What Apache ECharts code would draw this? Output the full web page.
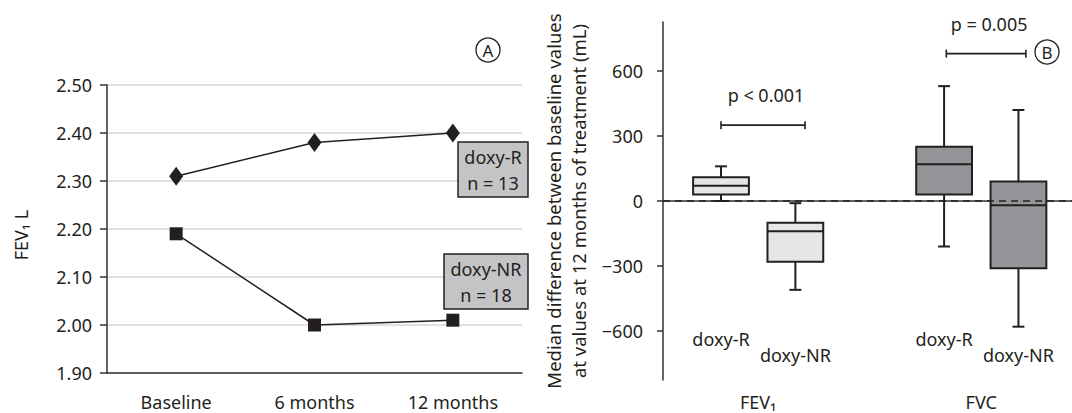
<!DOCTYPE html>
<html><head><meta charset="utf-8">
<script src="https://cdn.jsdelivr.net/npm/echarts@6/dist/echarts.min.js"></script>
<style>html,body{margin:0;padding:0;background:#fff}#c{width:1072px;height:413px}</style>
</head><body><div id="c"></div>
<script>
// ---- Panel A data ----
const timepoints = ['Baseline', '6 months', '12 months'];
const doxyR_FEV1 = [2.31, 2.38, 2.40];
const doxyNR_FEV1 = [2.19, 2.00, 2.01];
const annotA = [['doxy-R', 'n = 13'], ['doxy-NR', 'n = 18']];
const yNameA = 'FEV\u2081 L';

// ---- Panel B data ----
const outcomeGroups = ['FEV\u2081', 'FVC'];
const boxNames = ['doxy-R', 'doxy-NR', 'doxy-R', 'doxy-NR'];
const boxSlots = [1, 2, 4, 5];
// [min, Q1, median, Q3, max]
const boxStats = [
  [0, 30, 70, 110, 160],
  [-410, -280, -140, -100, -10],
  [-210, 30, 170, 250, 530],
  [-580, -310, -20, 90, 420]
];
const pBrackets = [[1, 2.13, 350], [4.03, 5.1, 680]];
const pLabels = ['p < 0.001', 'p = 0.005'];
const yTicksB = [-600, -300, 0, 300, 600];

const INK = '#231f20';
const FONT = 'Noto Sans';
const FILLS = ['#e5e6e7', '#949598'];

const chart = echarts.init(document.getElementById('c'), null, {renderer: 'svg'});

const option = {
  animation: false,
  backgroundColor: '#fff',
  textStyle: {fontFamily: FONT, color: INK},
  grid: [
    {left: 107, top: 85, width: 415, height: 288, outerBoundsMode: 'none', containLabel: false},
    {left: 663, top: 22, right: 0, height: 358, outerBoundsMode: 'none', containLabel: false}
  ],
  xAxis: [
    {
      gridIndex: 0, type: 'category', data: timepoints, boundaryGap: true, position: 'bottom',
      axisLine: {lineStyle: {color: '#333', width: 1.5}},
      axisTick: {alignWithLabel: true, length: 7, lineStyle: {color: '#333', width: 1.5}},
      axisLabel: {fontSize: 18, color: INK, margin: 20, fontFamily: FONT}
    },
    {
      gridIndex: 0, type: 'category', data: timepoints, boundaryGap: true, position: 'bottom',
      axisLine: {show: false},
      axisTick: {inside: true, length: 7, lineStyle: {color: '#333', width: 1.5}},
      axisLabel: {show: false}
    },
    {
      gridIndex: 1, type: 'value', min: 0.22, max: 5.72, position: 'bottom',
      axisLine: {lineStyle: {color: '#333', width: 1.5}},
      axisTick: {show: false},
      splitLine: {show: false},
      axisLabel: {
        customValues: [1.5, 4.5], margin: 14, fontSize: 18, lineHeight: 16, color: INK, fontFamily: FONT,
        formatter: v => (v < 3 ? outcomeGroups[0] : outcomeGroups[1])
      }
    }
  ],
  yAxis: [
    {
      gridIndex: 0, type: 'value', min: 1.9, max: 2.5, interval: 0.1,
      axisLine: {show: true, lineStyle: {color: '#333', width: 1.5}},
      axisTick: {show: true, length: 7, lineStyle: {color: '#333', width: 1.5}},
      axisLabel: {fontSize: 18, color: INK, margin: 15, fontFamily: FONT, formatter: v => v.toFixed(2)},
      splitLine: {lineStyle: {color: '#d6d6d6', width: 1.5}}
    },
    {
      gridIndex: 1, type: 'value', min: -826, max: 826,
      axisLine: {show: true, lineStyle: {color: '#333', width: 1.5}},
      axisTick: {show: true, length: 6, customValues: yTicksB, lineStyle: {color: '#333', width: 1.5}},
      axisLabel: {fontSize: 18, color: INK, margin: 20, fontFamily: FONT, customValues: yTicksB,
        formatter: v => (v < 0 ? '\u2212' + Math.abs(v) : String(v))},
      splitLine: {show: false},
      name: 'Median difference between baseline values\nat values at 12 months of treatment (mL)',
      nameLocation: 'middle', nameGap: 72, nameRotate: 90,
      nameTextStyle: {fontSize: 18.5, color: INK, fontFamily: FONT, lineHeight: 25}
    }
  ],
  series: [
    {
      type: 'line', xAxisIndex: 0, yAxisIndex: 0, data: doxyR_FEV1,
      symbol: 'diamond', symbolSize: [14, 19], color: INK,
      lineStyle: {color: INK, width: 1.5}, itemStyle: {color: INK}
    },
    {
      type: 'line', xAxisIndex: 0, yAxisIndex: 0, data: doxyNR_FEV1,
      symbol: 'rect', symbolSize: 13, color: INK,
      lineStyle: {color: INK, width: 1.5}, itemStyle: {color: INK}
    },
    {
      type: 'custom', xAxisIndex: 2, yAxisIndex: 1, z: 3,
      data: boxSlots.map((s, i) => [s].concat(boxStats[i])),
      encode: {x: 0, y: [1, 2, 3, 4, 5]},
      renderItem: function (params, api) {
        const x = api.value(0);
        const lo = api.coord([x, api.value(1)]);
        const q1 = api.coord([x, api.value(2)]);
        const md = api.coord([x, api.value(3)]);
        const q3 = api.coord([x, api.value(4)]);
        const hi = api.coord([x, api.value(5)]);
        const bottom = api.coord([x, -826])[1];
        const w = api.size([0.75, 0])[0];
        const cap = api.size([0.16, 0])[0];
        const cx = lo[0];
        const fill = FILLS[Math.floor(params.dataIndex / 2)];
        const ls = {stroke: INK, lineWidth: 2};
        const isNR = params.dataIndex % 2 === 1;
        return {type: 'group', children: [
          {type: 'line', shape: {x1: cx, y1: hi[1], x2: cx, y2: q3[1]}, style: ls},
          {type: 'line', shape: {x1: cx, y1: q1[1], x2: cx, y2: lo[1]}, style: ls},
          {type: 'line', shape: {x1: cx - cap / 2, y1: hi[1], x2: cx + cap / 2, y2: hi[1]}, style: ls},
          {type: 'line', shape: {x1: cx - cap / 2, y1: lo[1], x2: cx + cap / 2, y2: lo[1]}, style: ls},
          {type: 'rect', shape: {x: cx - w / 2, y: q3[1], width: w, height: q1[1] - q3[1]},
            style: {fill: fill, stroke: INK, lineWidth: 2}},
          {type: 'line', shape: {x1: cx - w / 2, y1: md[1], x2: cx + w / 2, y2: md[1]}, style: ls},
          {type: 'text', style: {text: boxNames[params.dataIndex], x: cx, y: bottom - (isNR ? 25 : 41),
            align: 'center', verticalAlign: 'middle', fontSize: 18, fontFamily: FONT, fill: INK}}
        ]};
      }
    },
    {
      type: 'custom', xAxisIndex: 2, yAxisIndex: 1, z: 3,
      data: pBrackets.map((b, i) => [b[0], b[1], b[2], i]),
      encode: {x: [0, 1], y: 2},
      renderItem: function (params, api) {
        const a = api.coord([api.value(0), api.value(2)]);
        const b = api.coord([api.value(1), api.value(2)]);
        const ls = {stroke: INK, lineWidth: 1.6};
        return {type: 'group', children: [
          {type: 'line', shape: {x1: a[0], y1: a[1], x2: b[0], y2: b[1]}, style: ls},
          {type: 'line', shape: {x1: a[0], y1: a[1] - 4, x2: a[0], y2: a[1] + 4}, style: ls},
          {type: 'line', shape: {x1: b[0], y1: b[1] - 4, x2: b[0], y2: b[1] + 4}, style: ls},
          {type: 'text', style: {text: pLabels[params.dataIndex], x: (a[0] + b[0]) / 2 + 3, y: a[1] - 30,
            align: 'center', verticalAlign: 'middle', fontSize: 18, fontFamily: FONT, fill: INK}}
        ]};
      }
    },
    {
      type: 'line', xAxisIndex: 2, yAxisIndex: 1, data: [], z: 10,
      markLine: {
        silent: true, symbol: ['none', 'none'], label: {show: false},
        lineStyle: {color: INK, type: [7, 5], width: 1.5},
        data: [{yAxis: 0}]
      }
    }
  ],
  graphic: [
    {type: 'text', z: 101, x: 21, y: 235, rotation: Math.PI / 2,
      style: {text: yNameA, align: 'center', verticalAlign: 'middle', fontSize: 18, fontFamily: FONT, fill: INK}},
    {type: 'group', z: 100, children: [
      {type: 'rect', z: 100, shape: {x: 458, y: 142, width: 70, height: 55},
        style: {fill: '#c4c4c6', stroke: INK, lineWidth: 1.5}},
      {type: 'text', z: 101, x: 493, y: 157, style: {text: annotA[0][0], align: 'center', verticalAlign: 'middle', fontSize: 18, fontFamily: FONT, fill: INK}},
      {type: 'text', z: 101, x: 493, y: 183, style: {text: annotA[0][1], align: 'center', verticalAlign: 'middle', fontSize: 18, fontFamily: FONT, fill: INK}},
      {type: 'rect', z: 100, shape: {x: 444, y: 254, width: 84, height: 55},
        style: {fill: '#c4c4c6', stroke: INK, lineWidth: 1.5}},
      {type: 'text', z: 101, x: 486, y: 269, style: {text: annotA[1][0], align: 'center', verticalAlign: 'middle', fontSize: 18, fontFamily: FONT, fill: INK}},
      {type: 'text', z: 101, x: 486, y: 295, style: {text: annotA[1][1], align: 'center', verticalAlign: 'middle', fontSize: 18, fontFamily: FONT, fill: INK}},
      {type: 'circle', z: 100, shape: {cx: 488, cy: 50, r: 12}, style: {fill: 'none', stroke: INK, lineWidth: 1.3}},
      {type: 'text', z: 101, x: 488, y: 50, style: {text: 'A', align: 'center', verticalAlign: 'middle', fontSize: 17, fontFamily: FONT, fill: INK}},
      {type: 'circle', z: 100, shape: {cx: 1047, cy: 52, r: 12}, style: {fill: 'none', stroke: INK, lineWidth: 1.3}},
      {type: 'text', z: 101, x: 1047, y: 52, style: {text: 'B', align: 'center', verticalAlign: 'middle', fontSize: 17, fontFamily: FONT, fill: INK}}
    ]}
  ]
};
chart.setOption(option);
</script>
</body></html>
